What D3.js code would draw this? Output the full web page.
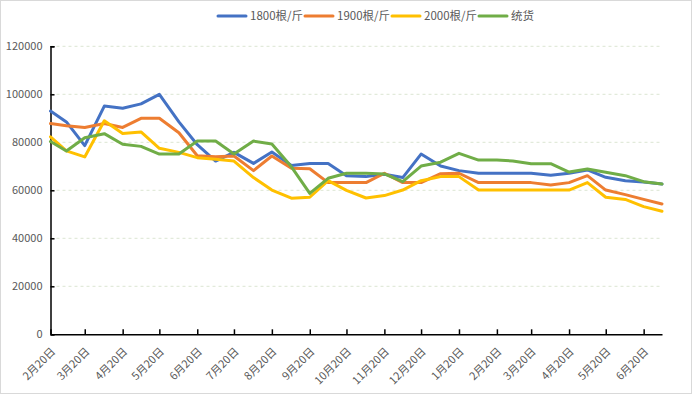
<!DOCTYPE html>
<html>
<head>
<meta charset="utf-8">
<script src="https://cdn.jsdelivr.net/npm/d3@7"></script>
<style>
  body { margin: 0; background: #fff; }
  svg text { font-family: "Noto Sans CJK SC", "Noto Sans", sans-serif; fill: #595959; }
</style>
</head>
<body>
<svg id="chart" width="692" height="394"></svg>
<script>
// sample dates (5th and 20th of each month)
let dates = [
  "2022-02-20", "2022-03-05", "2022-03-20", "2022-04-05", "2022-04-20", "2022-05-05",
  "2022-05-20", "2022-06-05", "2022-06-20", "2022-07-05", "2022-07-20", "2022-08-05",
  "2022-08-20", "2022-09-05", "2022-09-20", "2022-10-05", "2022-10-20", "2022-11-05",
  "2022-11-20", "2022-12-05", "2022-12-20", "2023-01-05", "2023-01-20", "2023-02-05",
  "2023-02-20", "2023-03-05", "2023-03-20", "2023-04-05", "2023-04-20", "2023-05-05",
  "2023-05-20", "2023-06-05", "2023-06-20", "2023-07-05"
];
let seriesNames = [ "1800根/斤", "1900根/斤", "2000根/斤", "统货" ];
let seriesColors = [ "#4472C4", "#ED7D31", "#FFC000", "#70AD47" ];

let v1800 = [ 93000, 88500, 78600, 95100, 94200, 96000, 100000, 88500, 79000, 72200, 75800, 71200,
              76000, 70300, 71200, 71200, 66100, 65700, 66700, 65300, 75100, 70100, 68200, 67100,
              67100, 67100, 67100, 66300, 67100, 68500, 65400, 64000, 63500, 62600 ];
let v1900 = [ 87800, 86900, 86200, 87800, 86200, 90000, 90000, 84000, 74400, 74000, 74300, 68200,
              74300, 69200, 69000, 63200, 63200, 63200, 67100, 63200, 63200, 66900, 67100, 63200,
              63200, 63200, 63200, 62200, 63200, 66100, 60100, 58200, 56200, 54300 ];
let v2000 = [ 82300, 76400, 73900, 89000, 83700, 84300, 77500, 75800, 73600, 72900, 72200, 65300,
              60100, 56700, 57100, 64000, 60000, 56800, 57800, 60100, 64000, 65700, 65700, 60100,
              60100, 60100, 60100, 60100, 60100, 63200, 57100, 56200, 53200, 51300 ];
let vTong = [ 80300, 76400, 81900, 83600, 79200, 78300, 75100, 75100, 80500, 80500, 75100, 80500,
              79300, 69800, 58700, 65000, 67100, 67100, 66800, 63600, 70100, 71700, 75400, 72600,
              72600, 72200, 71100, 71100, 67600, 68900, 67500, 66100, 63600, 62600 ];

let yTicks = [ 0, 20000, 40000, 60000, 80000, 100000, 120000 ];

let W = 692, H = 394 ;
let plotL = 50.5, plotR = 662, plotT = 46.3, plotB = 334.3 ;

let parse = d3.timeParse("%Y-%m-%d");
let xDates = dates.map(parse);
let allSeries = [ v1800, v1900, v2000, vTong ];

let svg = d3.select("#chart");

svg.append("rect")
  .attr("x", 0.5).attr("y", 0.5)
  .attr("width", W - 1).attr("height", H - 1)
  .attr("fill", "#fff")
  .attr("stroke", "#d9d9d9");

let x = d3.scaleTime()
  .domain([ xDates[0], xDates[xDates.length - 1] ])
  .range([ plotL, plotR ]);

let y = d3.scaleLinear()
  .domain([ 0, 120000 ])
  .range([ plotB, plotT ]);

// horizontal grid
svg.append("g")
  .selectAll("line")
  .data(yTicks.filter(t => t > 0)).enter().append("line")
    .attr("x1", plotL).attr("x2", plotR)
    .attr("y1", d => y(d)).attr("y2", d => y(d))
    .attr("stroke", "#dbe5d3")
    .attr("stroke-width", 1)
    .attr("stroke-dasharray", "3,3");

// y axis
let yAxis = d3.axisRight(y).tickValues(yTicks).tickSize(4).tickFormat(d3.format("d"));
let yG = svg.append("g")
  .attr("transform", "translate(" + plotL + ",0)")
  .call(yAxis);
yG.select(".domain").attr("stroke", "#000").attr("stroke-width", 1.5);
yG.selectAll(".tick line").attr("stroke", "#000").attr("stroke-width", 1.5);
yG.selectAll(".tick text")
  .attr("x", -8).attr("text-anchor", "end")
  .style("font-size", "11px");

// x axis
let xTicks = d3.timeMonth.every(1).range(parse("2022-02-01"), parse("2023-07-01")).map(d => d3.timeDay.offset(d, 19));
let xAxis = d3.axisTop(x).tickValues(xTicks).tickSize(5).tickSizeOuter(0).tickFormat(d3.timeFormat("%-m月%-d日"));
let xG = svg.append("g")
  .attr("transform", "translate(0," + plotB + ")")
  .call(xAxis);
xG.select(".domain").attr("stroke", "#000").attr("stroke-width", 1.5);
xG.selectAll(".tick line").attr("stroke", "#000").attr("stroke-width", 1.5);
xG.selectAll(".tick text")
  .attr("y", 0).attr("dy", 0)
  .attr("text-anchor", "end")
  .attr("transform", "translate(5,18) rotate(-45)")
  .style("font-size", "11px");

// lines
let line = d3.line()
  .x((d, i) => x(xDates[i]))
  .y(d => y(d));

svg.append("g")
  .selectAll("path")
  .data(allSeries).enter().append("path")
    .attr("d", line)
    .attr("fill", "none")
    .attr("stroke", (d, i) => seriesColors[i])
    .attr("stroke-width", 3)
    .attr("stroke-linejoin", "round")
    .attr("stroke-linecap", "round");

// legend
let legendX = [ 218, 305, 392, 479 ];
let lg = svg.append("g").attr("transform", "translate(0,16)");
let items = lg.selectAll("g")
  .data(seriesNames).enter().append("g")
    .attr("transform", (d, i) => "translate(" + legendX[i] + ",0)");
items.append("line")
  .attr("x1", 0).attr("x2", 28)
  .attr("stroke", (d, i) => seriesColors[i])
  .attr("stroke-width", 3)
  .attr("stroke-linecap", "round");
items.append("text")
  .attr("x", 32).attr("dy", "0.36em")
  .style("font-size", "11.5px")
  .text(d => d);
</script>
</body>
</html>
